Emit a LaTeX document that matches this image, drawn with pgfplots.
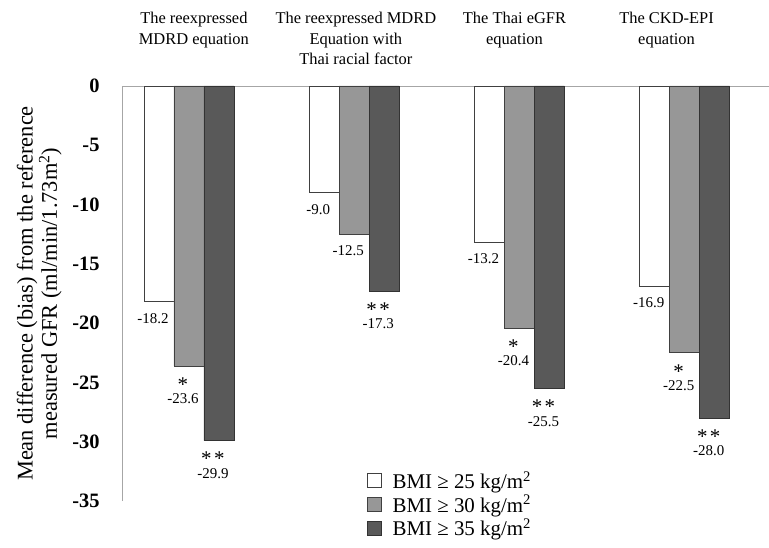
\documentclass[border=0pt]{standalone}
\usepackage{fontspec}
\setmainfont{Liberation Serif}
\usepackage{pgfplots}
\pgfplotsset{compat=1.18}
\definecolor{gB}{HTML}{979797}
\definecolor{gC}{HTML}{595959}
\protected\def\myast{\raisebox{-4bp}{\fontsize{21}{21}\selectfont *}}
\protected\def\lab#1#2{\begin{tabular}{@{}c@{}}#1\\#2\end{tabular}}
\protected\def\one#1{\begin{tabular}{@{}c@{}}#1\end{tabular}}
\begin{document}
\begin{tikzpicture}
\useasboundingbox (-122bp,-47bp) rectangle (647bp,501bp);
\begin{axis}[
  at={(0,0)}, anchor=south west,
  scale only axis, width=647bp, height=415bp,
  xmin=-0.405, xmax=3.51, ymin=-35, ymax=0,
  axis y line*=left, axis x line*=top,
  axis line style={draw=black!35, line width=0.8bp},
  xtick=\empty,
  ytick={-35,-30,...,0},
  yticklabels={-35,-30,-25,-20,-15,-10,-5,0},
  major tick length=0pt,
  yticklabel style={font=\fontsize{20.5}{23}\selectfont\bfseries, xshift=-19bp},
  ylabel={Mean difference (bias) from the reference\\measured GFR (ml/min/1.73m\textsuperscript{2})},
  ylabel style={at={(axis description cs:-0.163,0.5)}, anchor=north, align=center, font=\fontsize{22.5}{24.5}\selectfont, inner sep=0pt},
  ybar=0pt, bar width=30bp,
  clip=false,
  point meta=explicit symbolic,
  nodes near coords,
  every node near coord/.append style={font=\fontsize{15}{16.5}\selectfont, anchor=north, inner sep=0pt, yshift=-9.5bp, xshift=-6bp, text=black},
  legend style={draw=none, fill=none, at={(axis description cs:0.378,0.078)}, anchor=north west, font=\fontsize{21}{23}\selectfont, inner sep=0pt, row sep=0pt, nodes={inner sep=2.5bp}},
  legend cell align=left,
  legend image code/.code={\path[draw=none,fill=none] (0bp,-7bp) rectangle (23bp,7bp); \draw[#1] (0bp,-7bp) rectangle (14bp,7bp);},
]
\addplot[fill=white, draw=black!75, line width=0.6bp] coordinates {
  (0,-18.2) [\one{-18.2}]
  (1,-9.0)  [\one{-9.0}]
  (2,-13.2) [\one{-13.2}]
  (3,-16.9) [\one{-16.9}]
};
\addplot[fill=gB, draw=black!75, line width=0.6bp] coordinates {
  (0,-23.6) [\lab{\myast}{-23.6}]
  (1,-12.5) [\one{-12.5}]
  (2,-20.4) [\lab{\myast}{-20.4}]
  (3,-22.5) [\lab{\myast}{-22.5}]
};
\addplot[fill=gC, draw=black!80, line width=0.6bp] coordinates {
  (0,-29.9) [\lab{\myast\,\myast}{-29.9}]
  (1,-17.3) [\lab{\myast\,\myast}{-17.3}]
  (2,-25.5) [\lab{\myast\,\myast}{-25.5}]
  (3,-28.0) [\lab{\myast\,\myast}{-28.0}]
};
\legend{BMI ≥ 25 kg/m\textsuperscript{2}, BMI ≥ 30 kg/m\textsuperscript{2}, BMI ≥ 35 kg/m\textsuperscript{2}}
\begin{scope}[every node/.style={anchor=north, align=center, inner sep=0pt, font=\fontsize{16.5}{20.5}\selectfont}]
\node at (axis cs:0.03,0) [yshift=74bp] {The reexpressed\\MDRD equation};
\node at (axis cs:1.01,0) [yshift=74bp] {The reexpressed MDRD\\Equation with\\Thai racial factor};
\node at (axis cs:1.97,0) [yshift=74bp] {The Thai eGFR\\equation};
\node at (axis cs:2.89,0) [yshift=74bp] {The CKD-EPI\\equation};
\end{scope}
\end{axis}
\end{tikzpicture}
\end{document}
